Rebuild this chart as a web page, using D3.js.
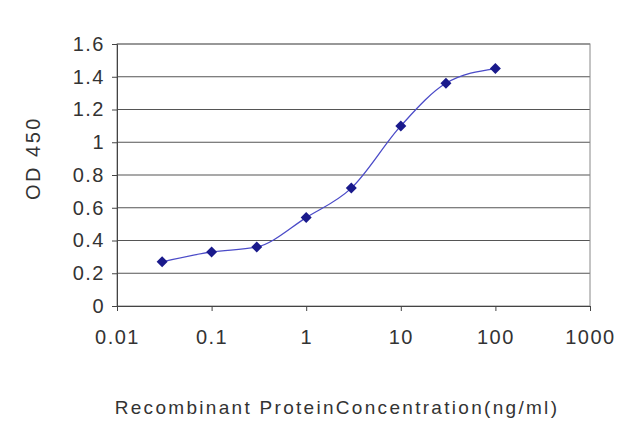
<!DOCTYPE html>
<html><head><meta charset="utf-8">
<script src="https://cdn.jsdelivr.net/npm/d3@7"></script>
<style>body{margin:0;background:#fff}text{font-family:"Liberation Sans",Arial,sans-serif}</style>
</head><body><svg id="c" width="640" height="427"></svg>
<script>
const concentrations=[0.03,0.1,0.3,1,3,10,30,100];
const od=[0.27,0.33,0.36,0.54,0.72,1.10,1.36,1.45];
const xTicks=[0.01,0.1,1,10,100,1000];
const yTicks=[0,0.2,0.4,0.6,0.8,1,1.2,1.4,1.6];
const svg=d3.select("#c");
const x=d3.scaleLog().domain([0.01,1000]).range([117,590]);
const y=d3.scaleLinear().domain([0,1.6]).range([306,44]);
svg.append("g").selectAll("line").data(yTicks.slice(1)).join("line")
 .attr("x1",117).attr("x2",590).attr("y1",d=>y(d)).attr("y2",d=>y(d)).attr("stroke","#555").attr("stroke-width",1.2);
svg.append("rect").attr("x",117).attr("y",44).attr("width",473).attr("height",262).attr("fill","none").attr("stroke","#888");
const ya=svg.append("g").attr("transform","translate(117,0)").call(d3.axisLeft(y).tickValues(yTicks).tickFormat(d3.format("~g")).tickSize(5));
const xa=svg.append("g").attr("transform","translate(0,306)").call(d3.axisBottom(x).tickValues(xTicks).tickFormat(d=>String(d)).tickSize(5));
[ya,xa].forEach(a=>{a.selectAll("text").attr("font-size",20).attr("letter-spacing",1.5).attr("fill","#333");a.selectAll("line,path").attr("stroke","#444");});
xa.selectAll("text").attr("dy","1.5em");
ya.selectAll("text").attr("x",-12);
svg.append("path").datum(concentrations.map((c,i)=>[c,od[i]]))
 .attr("d",d3.line().x(d=>x(d[0])).y(d=>y(d[1])).curve(d3.curveMonotoneX))
 .attr("fill","none").attr("stroke","#4b4bc8").attr("stroke-width",1.3);
svg.append("g").selectAll("path").data(concentrations).join("path")
 .attr("transform",(d,i)=>`translate(${x(d)},${y(od[i])})`)
 .attr("d","M0,-5.5L5.5,0L0,5.5L-5.5,0Z").attr("fill","#1a1a8c");
svg.append("text").attr("x",337).attr("y",414).attr("text-anchor","middle").attr("font-size",19).attr("letter-spacing",2.3).attr("fill","#333").text("Recombinant ProteinConcentration(ng/ml)");
svg.append("text").attr("transform","translate(40,158) rotate(-90)").attr("text-anchor","middle").attr("font-size",20).attr("letter-spacing",2.5).attr("fill","#333").text("OD 450");
</script></body></html>
